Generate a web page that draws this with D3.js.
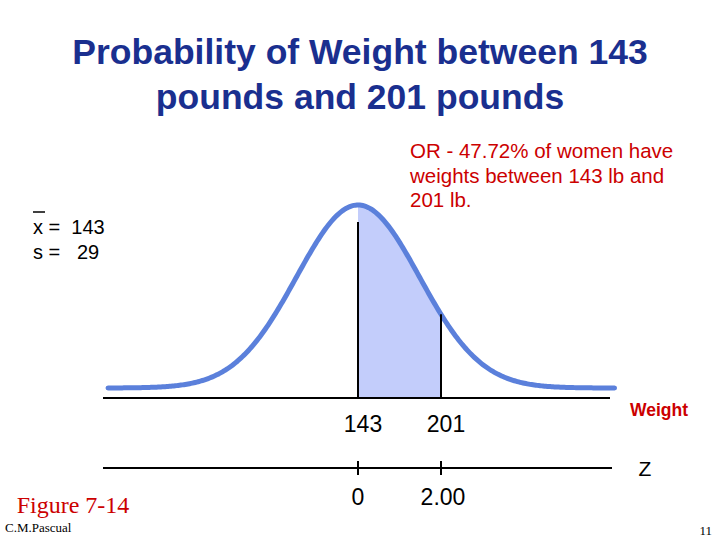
<!DOCTYPE html>
<html><head><meta charset="utf-8">
<script src="https://cdn.jsdelivr.net/npm/d3@7"></script>
<style>body{margin:0;background:#fff}</style></head>
<body><svg id="c" width="720" height="540"></svg>
<script>
const titleLines = ["Probability of Weight between 143", "pounds and 201 pounds"];
const noteLines = ["OR -  47.72% of women have", "weights between 143 lb and", "201 lb."];
const meanW = 143, sdW = 29;
const weightTicks = [143, 201];
const zTicks = ["0", "2.00"];
const curveSpread = 43; // drawn curve width (lb), wider than true sd for display
const svg = d3.select("#c");
const x = d3.scaleLinear().domain([143, 201]).range([358, 441]);
const y = d3.scaleLinear().domain([0, 1]).range([388, 205]);
const dens = w => Math.exp(-0.5 * ((w - meanW) / curveSpread) ** 2);
const pts = d3.range(x.invert(108), x.invert(616), 1);
svg.append("path").datum(d3.range(143, 201.01, 0.5)).attr("d", d3.area().x(d => x(d)).y0(398).y1(d => y(dens(d)))).attr("fill", "#c3cdfb");
svg.append("path").datum(pts).attr("d", d3.line().x(d => x(d)).y(d => y(dens(d))))
  .attr("fill", "none").attr("stroke", "#5b80db").attr("stroke-width", 5).attr("stroke-linecap", "round");
[143, 201].forEach(v => svg.append("line").attr("x1", x(v)).attr("x2", x(v)).attr("y1", v === 143 ? 222 : y(dens(v))).attr("y2", 398).attr("stroke", "#000").attr("stroke-width", 2));
svg.append("line").attr("x1", 103).attr("x2", 610).attr("y1", 398).attr("y2", 398).attr("stroke", "#000").attr("stroke-width", 2);
svg.append("line").attr("x1", 103).attr("x2", 612).attr("y1", 468).attr("y2", 468).attr("stroke", "#000").attr("stroke-width", 2);
weightTicks.forEach(v => {
  svg.append("text").attr("x", x(v) + 5).attr("y", 432).attr("text-anchor", "middle").style("font-family", "Liberation Sans, Arial").style("font-size", "23px").text(v);
  svg.append("line").attr("x1", x(v)).attr("x2", x(v)).attr("y1", 461).attr("y2", 475).attr("stroke", "#000").attr("stroke-width", 2);
});
zTicks.forEach((t, i) => svg.append("text").attr("x", x(weightTicks[i]) + (i ? 2 : 0)).attr("y", 505).attr("text-anchor", "middle").style("font-family", "Liberation Sans, Arial").style("font-size", "23px").text(t));
const T = (t, xx, yy, size, color, opts = {}) => svg.append("text").attr("x", xx).attr("y", yy).attr("text-anchor", opts.anchor || "start")
  .style("font-family", opts.family || "Liberation Sans, Arial").style("font-size", size + "px").style("font-weight", opts.bold ? "bold" : "normal").attr("fill", color).text(t);
titleLines.forEach((t, i) => T(t, 360, 64 + i * 45, 35.5, "#1a2f8f", {anchor: "middle", bold: true}));
noteLines.forEach((t, i) => T(t, 410, 158 + i * 24.5, 20.5, "#cc0000"));
T("x = " + "\u00a0" + meanW, 33, 234, 20, "#000");
svg.append("line").attr("x1", 33).attr("x2", 45).attr("y1", 212).attr("y2", 212).attr("stroke", "#000").attr("stroke-width", 1.5);
T("s = \u00a0\u00a0" + sdW, 33, 259, 20, "#000");
T("Weight", 659, 416, 17.5, "#cc0000", {anchor: "middle", bold: true});
T("Z", 645, 476, 21, "#000", {anchor: "middle"});
T("Figure 7-14", 73, 513, 24, "#cc0000", {anchor: "middle", family: "Liberation Serif, Times New Roman"});
T("C.M.Pascual", 5, 532, 13, "#000", {family: "Liberation Serif, Times New Roman"});
T("11", 712, 535, 13, "#000", {anchor: "end", family: "Liberation Serif, Times New Roman"});
</script></body></html>
